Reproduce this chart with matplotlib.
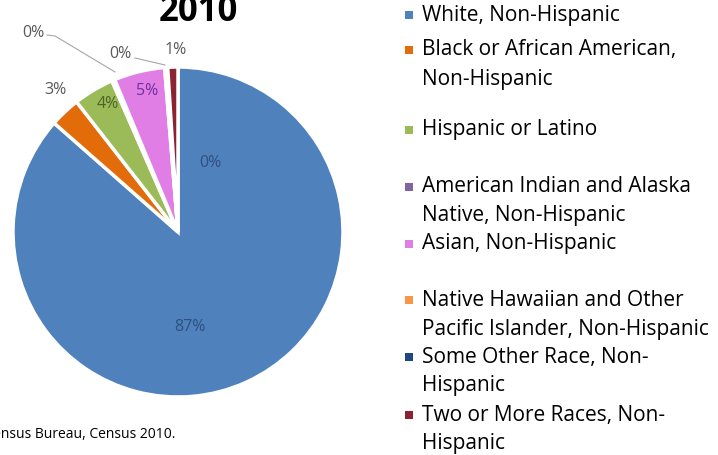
import matplotlib
matplotlib.use("Agg")
import matplotlib.pyplot as plt
import matplotlib.patches as mpatches

plt.rcParams['font.family'] = ['Open Sans', 'DejaVu Sans']

# ---- data ----
groups = [
    "White, Non-Hispanic",
    "Black or African American,\nNon-Hispanic",
    "Hispanic or Latino",
    "American Indian and Alaska\nNative, Non-Hispanic",
    "Asian, Non-Hispanic",
    "Native Hawaiian and Other\nPacific Islander, Non-Hispanic",
    "Some Other Race, Non-\nHispanic",
    "Two or More Races, Non-\nHispanic",
]
shares = [87.0, 3.0, 4.0, 0.3, 5.0, 0.1, 0.2, 1.0]
pct_labels = ["87%", "3%", "4%", "0%", "5%", "0%", "0%", "1%"]
colors = ["#4F81BD", "#E36C0A", "#9BBB59", "#8064A2",
          "#E07EE6", "#F79646", "#1F497D", "#8B2332"]

W, H = 718, 455
fig = plt.figure(figsize=(W / 100, H / 100), dpi=100)

# pie axes: centre (178, 232) px from top-left, radius 165 px
cx, cy, r = 178, 232, 165
ax = fig.add_axes([(cx - r) / W, (H - cy - r) / H, 2 * r / W, 2 * r / H])
ax.pie(shares, colors=colors, startangle=90, counterclock=False, radius=1,
       wedgeprops=dict(edgecolor="white", linewidth=2.5))
ax.set_xlim(-1, 1)
ax.set_ylim(-1, 1)
ax.set_aspect("equal")
ax.axis("off")


def px(x, y):
    return (x - cx) / r, (cy - y) / r


# percentage labels (pixel positions)
label_pos = [(190, 327), (55, 90), (108, 104), (33, 33),
             (147, 91), (120, 54), (210, 163), (176, 50)]
label_col = ["#2f5080", "#595959", "#4F6228", "#595959",
             "#7030A0", "#595959", "#2f5080", "#595959"]
for txt, (lx, ly), c in zip(pct_labels, label_pos, label_col):
    x, y = px(lx, ly)
    ax.text(x, y, txt, ha="center", va="center", fontsize=11.5, color=c,
            clip_on=False)

# leader lines for the tiny slices
leaders = [[(47, 35), (55, 36), (115, 72)],
           [(135, 58), (165, 65)]]
for pts in leaders:
    xs, ys = zip(*[px(a, b) for a, b in pts])
    ax.plot(xs, ys, color="#A6A6A6", lw=0.8, clip_on=False)

# title, partly cut off at the top
fig.text(198 / W, 1 - 21 / H, "2010", ha="center", va="baseline",
         fontsize=25, fontweight="bold", color="black")

# legend drawn by hand
leg_y = [15, 50, 130, 187, 244, 300, 357, 415]
line_gap = 29
for name, c, y in zip(groups, colors, leg_y):
    fig.patches.append(mpatches.Rectangle(
        (405 / W, 1 - (y + 4) / H), 8 / W, 8 / H,
        transform=fig.transFigure, facecolor=c, edgecolor="none"))
    for i, line in enumerate(name.split("\n")):
        fig.text(422 / W, 1 - (y + i * line_gap) / H, line,
                 ha="left", va="center", fontsize=15, color="black")

# source note, clipped at the left edge
fig.text(175 / W, 1 - 435 / H, "Source: U.S. Census Bureau, Census 2010.",
         ha="right", va="center", fontsize=10, color="black")

fig.savefig("out.png", dpi=100)
